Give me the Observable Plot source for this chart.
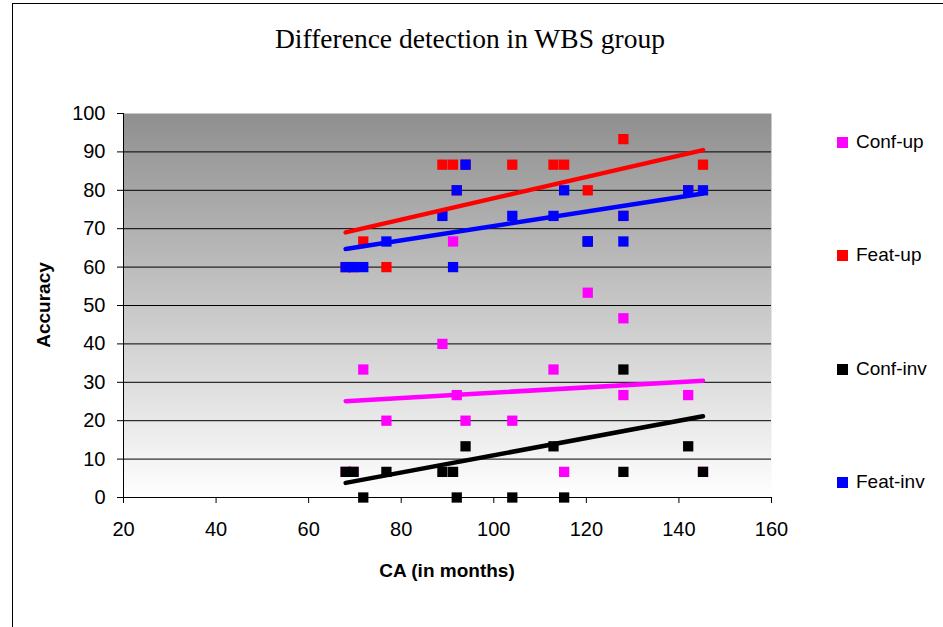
<!DOCTYPE html>
<html><head><meta charset="utf-8">
<script src="https://cdn.jsdelivr.net/npm/d3@7"></script>
<script src="https://cdn.jsdelivr.net/npm/@observablehq/plot@0.6"></script>
<style>
body{margin:0;background:#fff;}
#wrap{position:relative;width:943px;height:627px;overflow:hidden;font-family:"Liberation Sans",Arial,sans-serif;color:#000;}
#frame{position:absolute;left:12px;top:3px;width:960px;height:660px;border-left:1px solid #000;border-top:1px solid #000;}
#chart{position:absolute;left:0;top:0;}
#title{position:absolute;left:220px;width:500px;top:23px;text-align:center;font-family:"Liberation Serif","Times New Roman",serif;font-size:27.5px;line-height:32px;}
.lab{position:absolute;font-weight:bold;font-size:19px;line-height:22px;}
#xlab{left:247px;width:400px;top:560px;text-align:center;}
#ylab{left:44px;top:305px;transform:translate(-50%,-50%) rotate(-90deg);white-space:nowrap;}
.leg{position:absolute;left:837px;font-size:19px;line-height:22px;white-space:nowrap;}
.leg span{display:inline-block;width:11px;height:11px;margin-right:8px;vertical-align:0px;}
</style>
</head><body>
<div id="wrap">
  <div id="frame"></div>
  <div id="chart"></div>
  <div id="title">Difference detection in WBS group</div>
  <div id="xlab" class="lab">CA (in months)</div>
  <div id="ylab" class="lab">Accuracy</div>
  <div id="legend"></div>
</div>
<script>
// Chronological age (months) of each participant
const ca      = [68, 69.7, 71.8, 76.8, 88.9, 91.2, 92, 93.9, 104, 112.9, 115.2, 120.3, 128, 128, 142, 145.2];
// Accuracy per condition
const confUp  = [6.67, 6.67, 33.33, 20, 40, 66.67, 26.67, 20, 20, 33.33, 6.67, 53.33, 46.67, 26.67, 26.67, 6.67];
const featUp  = [60, 60, 66.67, 60, 86.67, 86.67, 80, 86.67, 86.67, 86.67, 86.67, 80, 93.33, 73.33, 80, 86.67];
const confInv = [6.67, 6.67, 0, 6.67, 6.67, 6.67, 0, 13.33, 0, 13.33, 0, 66.67, 33.33, 6.67, 13.33, 6.67];
const featInv = [60, 60, 60, 66.67, 73.33, 60, 80, 86.67, 73.33, 73.33, 80, 66.67, 73.33, 66.67, 80, 80];

const seriesNames  = ["Conf-up", "Feat-up", "Conf-inv", "Feat-inv"];
const seriesColors = ["#ff00ff", "#ff0000", "#000000", "#0000ff"];
const seriesValues = [confUp, featUp, confInv, featInv];

const xTicks = [20, 40, 60, 80, 100, 120, 140, 160];
const yTicks = [0, 10, 20, 30, 40, 50, 60, 70, 80, 90, 100];
const gridTicks = [10, 20, 30, 40, 50, 60, 70, 80, 90];

const rows = [];
seriesNames.forEach((s, i) => seriesValues[i].forEach((v, j) => rows.push({series: s, ca: ca[j], acc: v})));

const svg = Plot.plot({
  width: 943, height: 627,
  marginLeft: 123, marginRight: 172, marginTop: 113, marginBottom: 130,
  style: {fontFamily: "'Liberation Sans', Arial, sans-serif", fontSize: "20px", color: "#000", background: "transparent"},
  x: {domain: [20, 160]},
  y: {domain: [0, 100]},
  color: {domain: seriesNames, range: seriesColors},
  marks: [
    Plot.frame({fill: "url(#bggrad)", stroke: "none"}),
    Plot.ruleY(gridTicks, {stroke: "#000", strokeWidth: 1}),
    Plot.axisY({ticks: yTicks, tickSize: 6, tickPadding: 12, label: null, stroke: "#000"}),
    Plot.axisX({ticks: xTicks, tickSize: 6, tickPadding: 18, label: null, stroke: "#000"}),
    Plot.ruleX([20], {stroke: "#000"}),
    Plot.ruleY([0], {stroke: "#000"}),
    Plot.dot(rows, {x: "ca", y: "acc", fill: "series", symbol: "square", r: 5.8, stroke: "none"}),
    Plot.linearRegressionY(rows, {x: "ca", y: "acc", stroke: "series", ci: 0, strokeWidth: 4.5, strokeLinecap: "round"})
  ]
});

const defs = d3.select(svg).insert("defs", ":first-child");
const g = defs.append("linearGradient").attr("id", "bggrad").attr("x1", 0).attr("y1", 0).attr("x2", 0).attr("y2", 1);
g.append("stop").attr("offset", "0%").attr("stop-color", "#8f8f8f");
g.append("stop").attr("offset", "100%").attr("stop-color", "#ffffff");

document.getElementById("chart").appendChild(svg);

const legendY = [142, 255, 369, 482];
const leg = document.getElementById("legend");
seriesNames.forEach((s, i) => {
  const d = document.createElement("div");
  d.className = "leg";
  d.style.top = (legendY[i] - 11) + "px";
  d.innerHTML = `<span style="background:${seriesColors[i]}"></span>${s}`;
  leg.appendChild(d);
});
</script>
</body></html>
